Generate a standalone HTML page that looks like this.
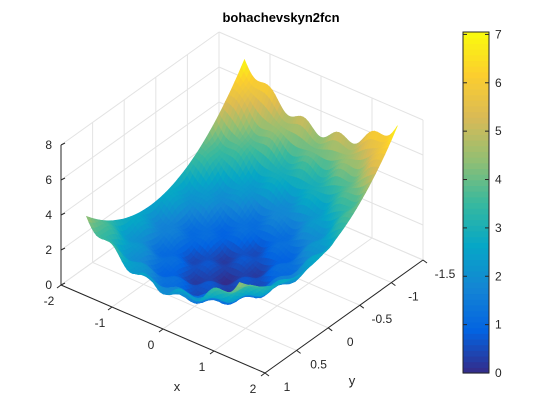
<!DOCTYPE html>
<html><head><meta charset="utf-8"><style>
body{margin:0;background:#fff;}
svg{display:block;font-family:"Liberation Sans",sans-serif;}
</style></head><body>
<svg id="chart" width="560" height="420" viewBox="0 0 560 420">
<rect width="560" height="420" fill="#fff"/>
<text x="281" y="22" text-anchor="middle" font-size="13" font-weight="bold" fill="#000">bohachevskyn2fcn</text>
<g id="grid"></g><g id="surf"></g><g id="axes"></g><g id="cbar"></g>
</svg>
<script>
const xTicks=[-2,-1,0,1,2];
const yTicks=[-1.5,-1,-0.5,0,0.5,1];
const zTicks=[0,2,4,6,8];
const cbTicks=[0,1,2,3,4,5,6,7];
const xDomain=[-1.5,1.5];
const yDomain=[-1.5,1];
const funcCoef=[1,2,0.3,3,4,0.3]; // x^2 + 2y^2 - 0.3cos(3πx)cos(4πy) + 0.3
const cMax=7.05;

const NS="http://www.w3.org/2000/svg";
const L=[61,285],F=[265,373],B=[219,172],ZS=17.5;
function P(x,y,z){const a=(x+2)/4,b=(1-y)/2.5;return[L[0]+a*(F[0]-L[0])+b*(B[0]-L[0]),L[1]+a*(F[1]-L[1])+b*(B[1]-L[1])-z*ZS];}
function el(t,at,parent){const e=document.createElementNS(NS,t);for(const k in at)e.setAttribute(k,at[k]);parent.appendChild(e);return e;}
const stops=[[53,42,135],[3,99,225],[20,133,212],[6,167,198],[56,185,158],[146,191,115],[217,186,86],[252,206,46],[249,251,14]];
function col(v){let t=Math.max(0,Math.min(1,v/cMax))*(stops.length-1);let i=Math.min(stops.length-2,Math.floor(t)),f=t-i;const c=stops[i].map((s,k)=>Math.round(s+(stops[i+1][k]-s)*f));return`rgb(${c[0]},${c[1]},${c[2]})`;}
function f(x,y){const c=funcCoef;return c[0]*x*x+c[1]*y*y-c[2]*Math.cos(c[3]*Math.PI*x)*Math.cos(c[4]*Math.PI*y)+c[5];}

const grid=document.getElementById('grid');
function line(p,q,stroke,parent,name){const e=el('line',{x1:p[0],y1:p[1],x2:q[0],y2:q[1],stroke:stroke,'stroke-width':1},parent);return e;}
const gc='#e3e3e3';
xTicks.forEach(x=>{line(P(x,1,0),P(x,-1.5,0),gc,grid,'floor-gridline');line(P(x,-1.5,0),P(x,-1.5,8),gc,grid,'wall-gridline');});
yTicks.forEach(y=>{line(P(-2,y,0),P(2,y,0),gc,grid,'floor-gridline');line(P(-2,y,0),P(-2,y,8),gc,grid,'wall-gridline');});
zTicks.forEach(z=>{line(P(-2,1,z),P(-2,-1.5,z),gc,grid,'wall-gridline');line(P(-2,-1.5,z),P(2,-1.5,z),gc,grid,'wall-gridline');});

const surf=document.getElementById('surf');


const NX=60,NY=50,cells=[];
for(let i=0;i<NX;i++)for(let j=0;j<NY;j++){
 const x0=xDomain[0]+(xDomain[1]-xDomain[0])*i/NX,x1=xDomain[0]+(xDomain[1]-xDomain[0])*(i+1)/NX;
 const y0=yDomain[0]+(yDomain[1]-yDomain[0])*j/NY,y1=yDomain[0]+(yDomain[1]-yDomain[0])*(j+1)/NY;
 const pts=[[x0,y0],[x1,y0],[x1,y1],[x0,y1]].map(p=>[p[0],p[1],f(p[0],p[1])]);
 const zm=(pts[0][2]+pts[1][2]+pts[2][2]+pts[3][2])/4;
 cells.push({pts,zm,d:(x0+x1)/2/4+(y0+y1)/2/2.5});
}
cells.sort((a,b)=>a.d-b.d);
cells.forEach(c=>{const s=c.pts.map(p=>P(p[0],p[1],p[2]).map(v=>v.toFixed(1)).join(',')).join(' ');const cl=col(c.zm);
 const e=el('polygon',{points:s,fill:cl,stroke:cl,'stroke-width':0.6},surf);
 
 });

const ax=document.getElementById('axes');
const ac='#262626';
line(P(-2,1,0),P(2,1,0),ac,ax,'x-axis-line');
line(P(2,1,0),P(2,-1.5,0),ac,ax,'y-axis-line');
line(P(-2,1,0),P(-2,1,8),ac,ax,'z-axis-line');
function txt(x,y,s,anchor,name,size){const e=el('text',{x:x,y:y,'text-anchor':anchor,'font-size':size||12,fill:'#262626'},ax);e.textContent=s;}
xTicks.forEach(x=>{const p=P(x,1,0);line(p,[p[0]-4,p[1]+3],ac,ax,'x-tick');txt(p[0]-12,p[1]+20,String(x),'middle','x-tick-label');});
yTicks.forEach(y=>{const p=P(2,y,0);line(p,[p[0]+4,p[1]+3],ac,ax,'y-tick');txt(p[0]+22,p[1]+18,String(y),'middle','y-tick-label');});
zTicks.forEach(z=>{const p=P(-2,1,z);line(p,[p[0]+4,p[1]-2],ac,ax,'z-tick');txt(p[0]-9,p[1]+4,String(z),'end','z-tick-label');});
txt(177,391,'x','middle','x-axis-title',13);
txt(352,385,'y','middle','y-axis-title',13);

const cb=document.getElementById('cbar');
const cbX=463,cbW=26,cbTop=32,cbBot=373;
const cy=v=>cbBot-(v/cMax)*(cbBot-cbTop);
for(let k=0;k<60;k++){const v0=cMax*k/60,v1=cMax*(k+1)/60;const r=el('rect',{x:cbX,y:cy(v1),width:cbW,height:cy(v0)-cy(v1)+0.6,fill:col((v0+v1)/2)},cb);}
const fr=el('rect',{x:cbX,y:cbTop,width:cbW,height:cbBot-cbTop,fill:'none',stroke:ac,'stroke-width':1},cb);

cbTicks.forEach(v=>{const y=cy(v);line([cbX+cbW-4,y],[cbX+cbW,y],ac,cb,'colorbar-tick');line([cbX,y],[cbX+4,y],ac,cb,'colorbar-tick');
 const t=el('text',{x:cbX+cbW+6,y:y+4,'font-size':12,fill:'#262626'},cb);t.textContent=String(v);});
</script>
</body></html>
